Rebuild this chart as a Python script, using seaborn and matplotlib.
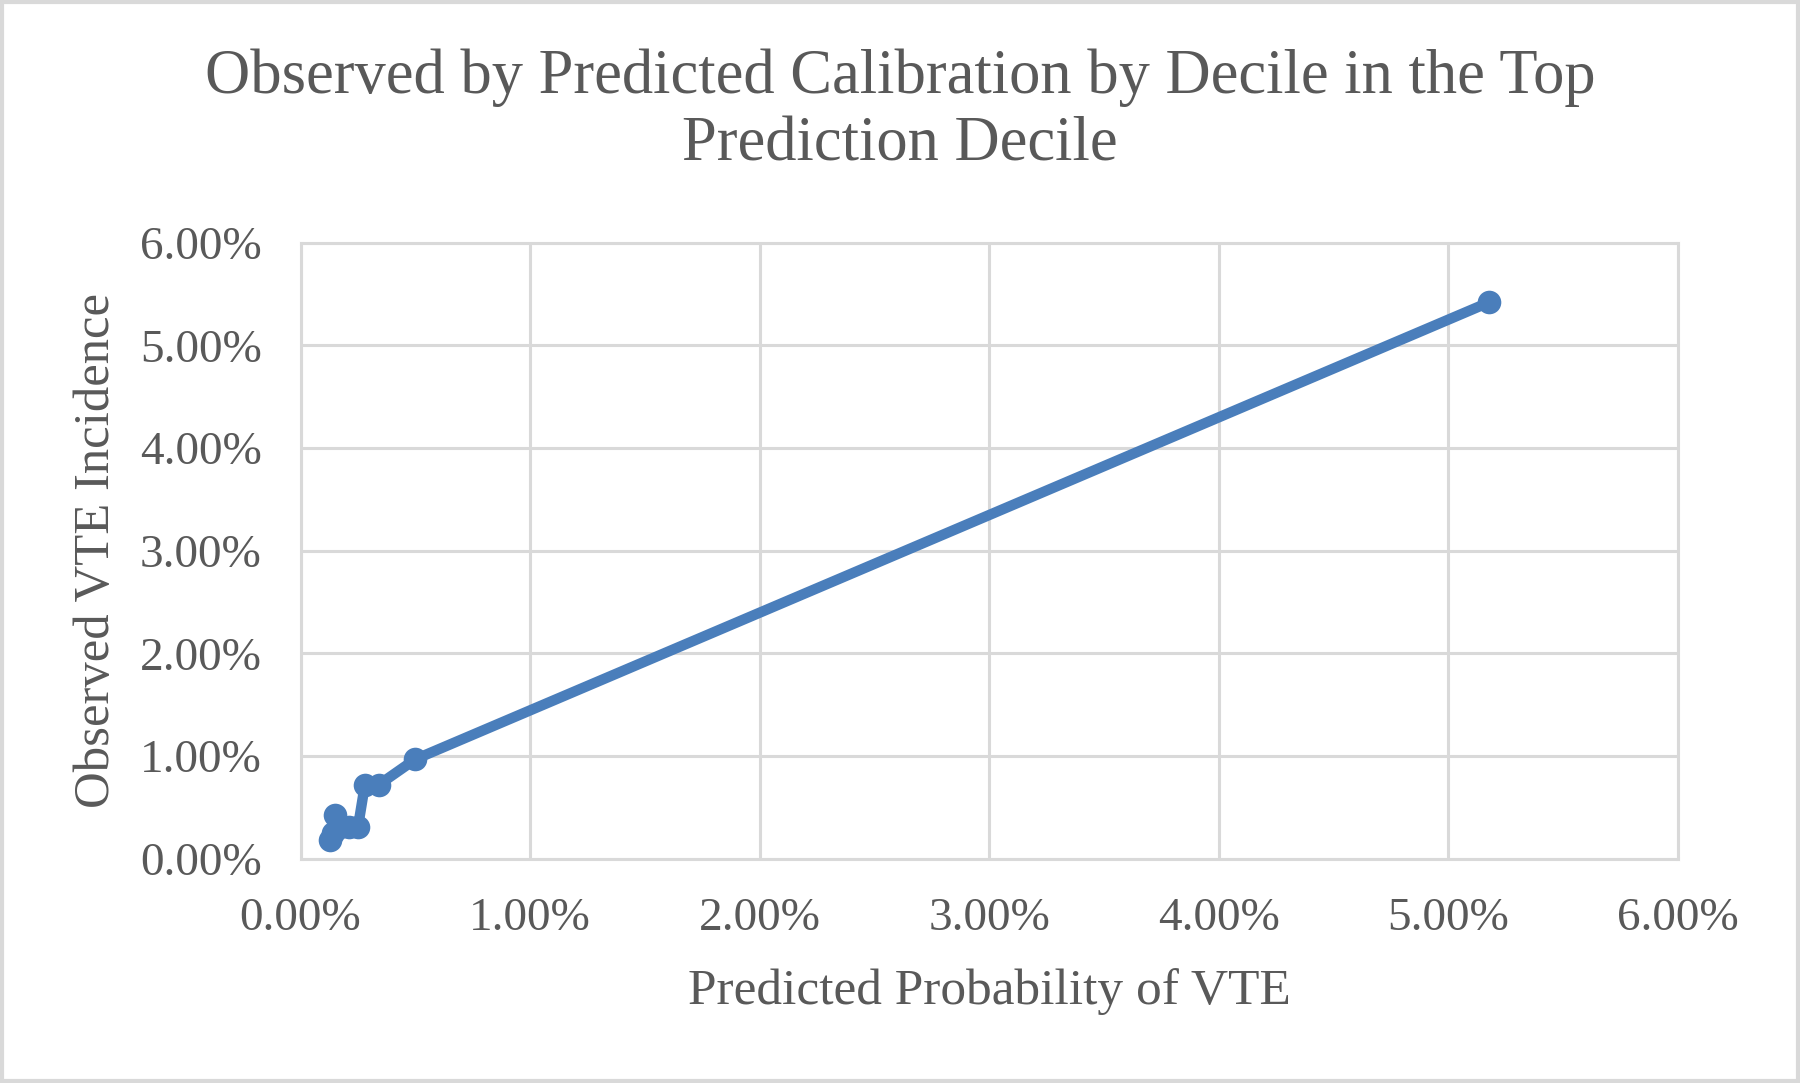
import matplotlib
matplotlib.use("Agg")
import matplotlib.pyplot as plt
import seaborn as sns
import pandas as pd
from matplotlib.ticker import FuncFormatter, MultipleLocator
from matplotlib.patches import Rectangle

predicted = [0.13, 0.14, 0.15, 0.17, 0.21, 0.25, 0.28, 0.34, 0.50, 5.18]
observed = [0.18, 0.25, 0.43, 0.31, 0.31, 0.31, 0.72, 0.72, 0.97, 5.42]

title = "Observed by Predicted Calibration by Decile in the Top\nPrediction Decile"
xlabel = "Predicted Probability of VTE"
ylabel = "Observed VTE Incidence"

df = pd.DataFrame({"pred": predicted, "obs": observed})

sns.set_theme(style="white")
plt.rcParams['font.family'] = ['Liberation Serif', 'DejaVu Serif']
txt = "#595959"
grid = "#d9d9d9"

fig = plt.figure(figsize=(18, 10.83), dpi=100)
ax = fig.add_axes([0.167, 0.207, 0.765, 0.569])

sns.lineplot(data=df, x="pred", y="obs", sort=False, ax=ax, color="#4a7ebb",
             linewidth=7.5, marker="o", markersize=17, markeredgewidth=0,
             zorder=3)

ax.set_xlim(0, 6)
ax.set_ylim(0, 6)
ax.xaxis.set_major_locator(MultipleLocator(1))
ax.yaxis.set_major_locator(MultipleLocator(1))
fmt = FuncFormatter(lambda v, p: f"{v:.2f}%")
ax.xaxis.set_major_formatter(fmt)
ax.yaxis.set_major_formatter(fmt)
ax.grid(True, color=grid, linewidth=2.2)
for s in ax.spines.values():
    s.set_color(grid)
    s.set_linewidth(2.2)
ax.tick_params(axis="both", length=0, labelsize=34, colors=txt, pad=28)
ax.set_xlabel(xlabel, fontsize=37, color=txt, labelpad=20)
ax.set_ylabel(ylabel, fontsize=36.5, color=txt, labelpad=14)
fig.suptitle(title, fontsize=45, color=txt, y=0.955, linespacing=1.2)

fig.patches.append(Rectangle((0.001, 0.002), 0.998, 0.996, transform=fig.transFigure,
                             fill=False, edgecolor=grid, linewidth=3))

fig.savefig("out.png", dpi=100, facecolor="white")
